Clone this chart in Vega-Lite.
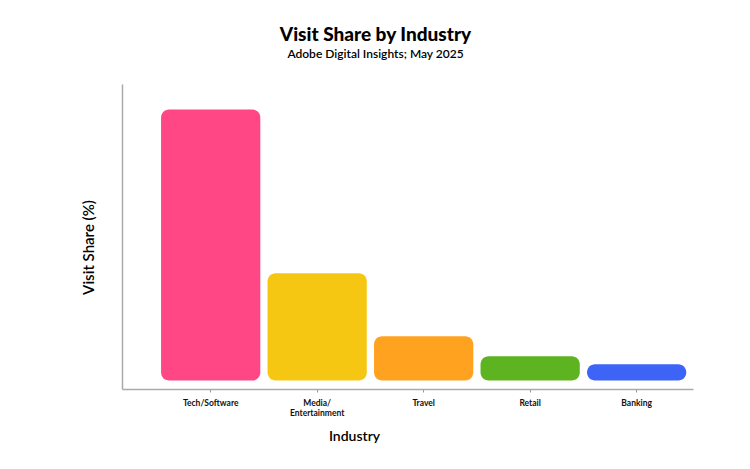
{
  "$schema": "https://vega.github.io/schema/vega-lite/v6.json",
  "width": 571,
  "height": 305,
  "autosize": {"type": "none"},
  "padding": {"left": 122, "top": 84, "right": 57, "bottom": 80},
  "background": "white",
  "config": {
    "view": {"stroke": null},
    "font": "Lato"
  },
  "title": {
    "text": "Visit Share by Industry",
    "subtitle": "Adobe Digital Insights; May 2025",
    "anchor": "middle",
    "dx": -32,
    "offset": 24,
    "font": "Lato",
    "fontSize": 19,
    "fontWeight": 900,
    "color": "#000000",
    "subtitleFont": "Lato",
    "subtitleFontSize": 12,
    "subtitleFontWeight": 600,
    "subtitleColor": "#000000",
    "subtitlePadding": 4
  },
  "data": {
    "values": [
      {"industry": "Tech/Software", "share": 50},
      {"industry": "Media/Entertainment", "share": 19.8},
      {"industry": "Travel", "share": 8.2},
      {"industry": "Retail", "share": 4.5},
      {"industry": "Banking", "share": 3.0}
    ]
  },
  "mark": {"type": "bar", "cornerRadius": 8},
  "encoding": {
    "x": {
      "field": "industry",
      "type": "nominal",
      "sort": null,
      "scale": {"paddingInner": 0.068, "paddingOuter": 0.215, "align": 0.853},
      "axis": {
        "title": "Industry",
        "titleFont": "Lato",
        "titleFontSize": 14,
        "titleFontWeight": 600,
        "titleColor": "#000000",
        "titleX": 232,
        "titleY": 51,
        "titleBaseline": "alphabetic",
        "labelAngle": 0,
        "labelFontSize": 8.5,
        "labelFontWeight": 700,
        "labelColor": "#111111",
        "labelPadding": 6,
        "labelExpr": "datum.label == 'Media/Entertainment' ? ['Media/', 'Entertainment'] : datum.label",
        "domainColor": "#aaaaaa",
        "domainWidth": 1.5,
        "tickColor": "#999999",
        "tickSize": 3
      }
    },
    "y": {
      "field": "share",
      "type": "quantitative",
      "scale": {"domain": [-1.55, 54.7], "nice": false, "zero": false},
      "axis": {
        "title": "Visit Share (%)",
        "titleFont": "Lato",
        "titleFontSize": 15,
        "titleFontWeight": 600,
        "titleColor": "#000000",
        "titlePadding": 26,
        "titleY": 163,
        "labels": false,
        "ticks": false,
        "grid": false,
        "domainColor": "#aaaaaa",
        "domainWidth": 1.5
      }
    },
    "y2": {"datum": 0},
    "color": {
      "field": "industry",
      "type": "nominal",
      "sort": null,
      "legend": null,
      "scale": {
        "domain": ["Tech/Software", "Media/Entertainment", "Travel", "Retail", "Banking"],
        "range": ["#ff4785", "#f5c713", "#ffa21f", "#5eb320", "#3e64f7"]
      }
    }
  }
}
